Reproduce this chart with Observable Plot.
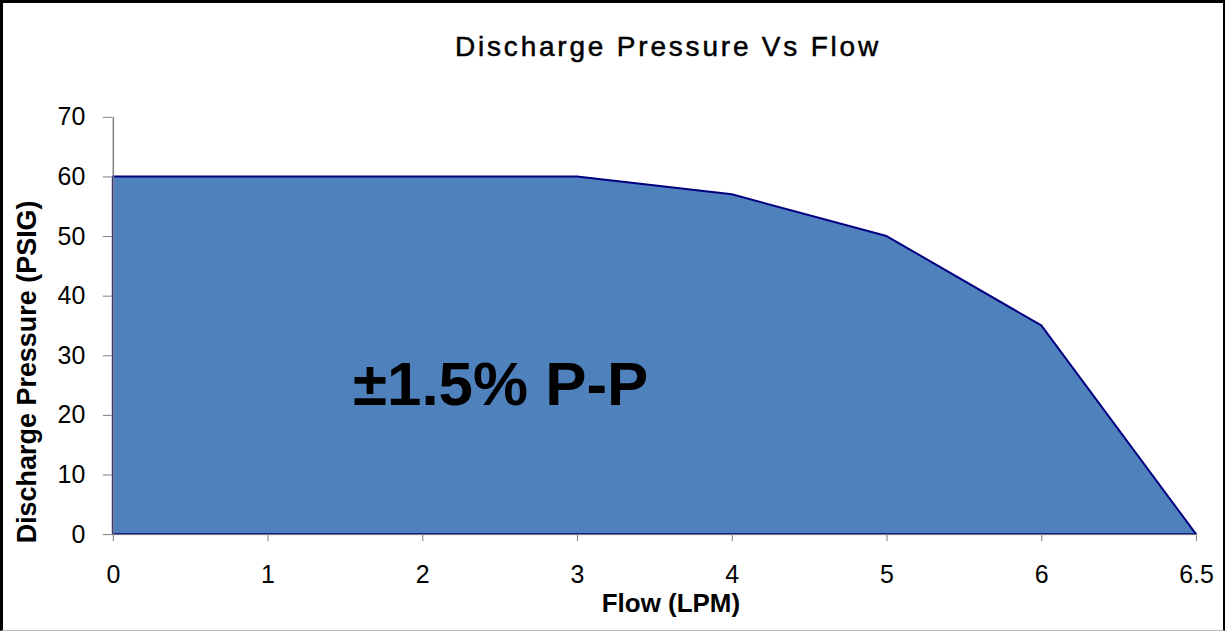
<!DOCTYPE html>
<html><head><meta charset="utf-8">
<script src="https://cdn.jsdelivr.net/npm/d3@7"></script>
<script src="https://cdn.jsdelivr.net/npm/@observablehq/plot@0.6"></script>
<style>
html,body{margin:0;padding:0;background:#fff;}
#wrap{position:relative;width:1225px;height:631px;box-sizing:border-box;border-top:3px solid #000;border-left:3px solid #000;border-right:2px solid #000;border-bottom:1px solid #bbb;overflow:hidden;}
#title{position:absolute;left:0;top:28px;width:1330px;text-align:center;font-family:"Liberation Sans",Arial,sans-serif;font-size:28px;font-weight:normal;letter-spacing:2.8px;-webkit-text-stroke:0.5px #000;color:#000;line-height:32px;}
#chart{position:absolute;left:-3px;top:-3px;}
#chart svg g[aria-label*="axis"] text{font-size:25px !important;}
</style></head>
<body>
<div id="wrap"><div id="title">Discharge Pressure Vs Flow</div><div id="chart"></div></div>
<script>
const flow = ["0","1","2","3","4","5","6","6.5"];
const pressure = [60,60,60,60,57,50,35,0];
const yTicks = [0,10,20,30,40,50,60,70];
const annotation = "±1.5% P-P";
const data = flow.map((f,i)=>({flow:f, pressure:pressure[i]}));

const plot = Plot.plot({
  width:1225, height:631,
  marginLeft:112, marginRight:26, marginTop:117, marginBottom:96,
  style:{fontFamily:"'Liberation Sans',Arial,sans-serif", fontSize:"25px", color:"#000", background:"transparent"},
  x:{type:"point", domain:flow, padding:0, label:null},
  y:{domain:[0,70], ticks:yTicks, label:null},
  marks:[
    Plot.areaY(data,{x:"flow", y:"pressure", fill:"#4F81BD", stroke:"#000080", strokeWidth:2}),
    Plot.ruleX([flow[0]],{stroke:"#808080", strokeWidth:1.5}),
    Plot.ruleY([0],{stroke:"#808080", strokeWidth:1}),
    Plot.axisY({ticks:yTicks, tickSize:9, tickPadding:18, stroke:"#808080", fontSize:25, label:null}),
    Plot.axisX({tickSize:7, tickPadding:24, stroke:"#808080", fontSize:25, label:null}),
    Plot.text([annotation],{x:()=>"2", y:()=>25, dx:78, text:d=>d, fontSize:62, fontWeight:"bold", fill:"#000", textAnchor:"middle"}),
    Plot.text(["Flow (LPM)"],{frameAnchor:"bottom", dy:69, dx:16, lineAnchor:"middle", text:d=>d, fontSize:26, fontWeight:"bold", fill:"#000"}),
    Plot.text(["Discharge Pressure (PSIG)"],{frameAnchor:"left", dx:-85, dy:46, rotate:-90, textAnchor:"middle", text:d=>d, fontSize:27, fontWeight:"bold", fill:"#000"})
  ]
});
document.getElementById("chart").appendChild(plot);
</script>
</body></html>
